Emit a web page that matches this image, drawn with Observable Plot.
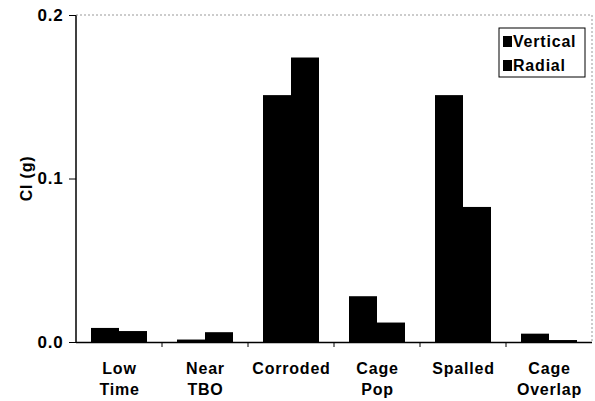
<!DOCTYPE html>
<html><head><meta charset="utf-8">
<script src="https://cdn.jsdelivr.net/npm/d3@7"></script>
<script src="https://cdn.jsdelivr.net/npm/@observablehq/plot@0.6"></script>
<style>body{margin:0;background:#fff} #chart{position:relative;width:595px;height:401px} #chart svg text{letter-spacing:0.8px}</style>
</head><body><div id="chart"></div>
<script>
const categories = ["Low\nTime","Near\nTBO","Corroded","Cage\nPop","Spalled","Cage\nOverlap"];
const series = ["Vertical","Radial"];
const vertical = [0.0086,0.0015,0.151,0.028,0.151,0.0051];
const radial = [0.0067,0.006,0.174,0.0119,0.0826,0.0012];
const yTicks = [0,0.1,0.2];

const data = categories.flatMap((c,i)=>[
  {category:c, series:"Vertical", value:vertical[i]},
  {category:c, series:"Radial", value:radial[i]}
]);

const font = "'Liberation Sans', Arial, sans-serif";
const chart = Plot.plot({
  width:595, height:401, marginLeft:75, marginRight:2, marginTop:15, marginBottom:59,
  style:{fontFamily:font, background:"#fff", color:"#000"},
  fx:{domain:categories, padding:0, label:null},
  x:{domain:series, paddingInner:0, paddingOuter:0.49, axis:null},
  y:{domain:[0,0.2], label:null},
  color:{domain:series, range:["#000","#000"]},
  marks:[
    Plot.barY(data,{fx:"category", x:"series", y:"value", fill:"series"}),
    Plot.ruleY([0],{stroke:"#000", strokeWidth:1.5}),
    Plot.axisY({ticks:yTicks, tickFormat:d3.format(".1f"), tickSize:7, tickPadding:6, fontSize:17, fontWeight:"bold", label:null}),
    Plot.axisFx({anchor:"bottom", tickSize:0, tickPadding:17, fontSize:16, fontWeight:"bold", lineHeight:1.3, label:null})
  ]
});
document.getElementById("chart").appendChild(chart);

const svg = d3.select(chart);
const fx = chart.scale("fx"), y = chart.scale("y");
const bw = fx.bandwidth !== undefined ? fx.bandwidth : fx.step;
const x0 = fx.apply(categories[0]);
const x1 = fx.apply(categories[categories.length-1]) + bw;
const y0 = y.apply(0), yTop = y.apply(0.2);
const g = svg.append("g");
g.append("line").attr("x1",x0).attr("x2",x0).attr("y1",y0).attr("y2",yTop).attr("stroke","#000").attr("stroke-width",1.5);
g.append("line").attr("x1",x0).attr("x2",x1).attr("y1",yTop).attr("y2",yTop).attr("stroke","#999").attr("stroke-width",1).attr("stroke-dasharray","2,2");
g.append("line").attr("x1",x1).attr("x2",x1).attr("y1",yTop).attr("y2",y0).attr("stroke","#999").attr("stroke-width",1).attr("stroke-dasharray","2,2");
categories.forEach((c,i)=>{
  if(i===0) return;
  const xb = fx.apply(c);
  g.append("line").attr("x1",xb).attr("x2",xb).attr("y1",y0).attr("y2",y0+5).attr("stroke","#000").attr("stroke-width",1);
});
// y label
g.append("text").attr("transform",`translate(26,${(y0+yTop)/2}) rotate(-90)`)
  .attr("text-anchor","middle").attr("dominant-baseline","central")
  .attr("font-family",font).attr("font-weight","bold").attr("font-size",16).text("CI (g)");
// legend
const lg = svg.append("g");
lg.append("rect").attr("x",499).attr("y",28).attr("width",86).attr("height",49).attr("fill","#fff").attr("stroke","#000").attr("stroke-width",1);
series.forEach((s,i)=>{
  const yy = 41 + i*24;
  lg.append("rect").attr("x",503).attr("y",yy-5).attr("width",9).attr("height",11).attr("fill","#000");
  lg.append("text").attr("x",513).attr("y",yy).attr("text-anchor","start").attr("dominant-baseline","central")
    .attr("font-family",font).attr("font-weight","bold").attr("font-size",16).text(s);
});
</script>
</body></html>
